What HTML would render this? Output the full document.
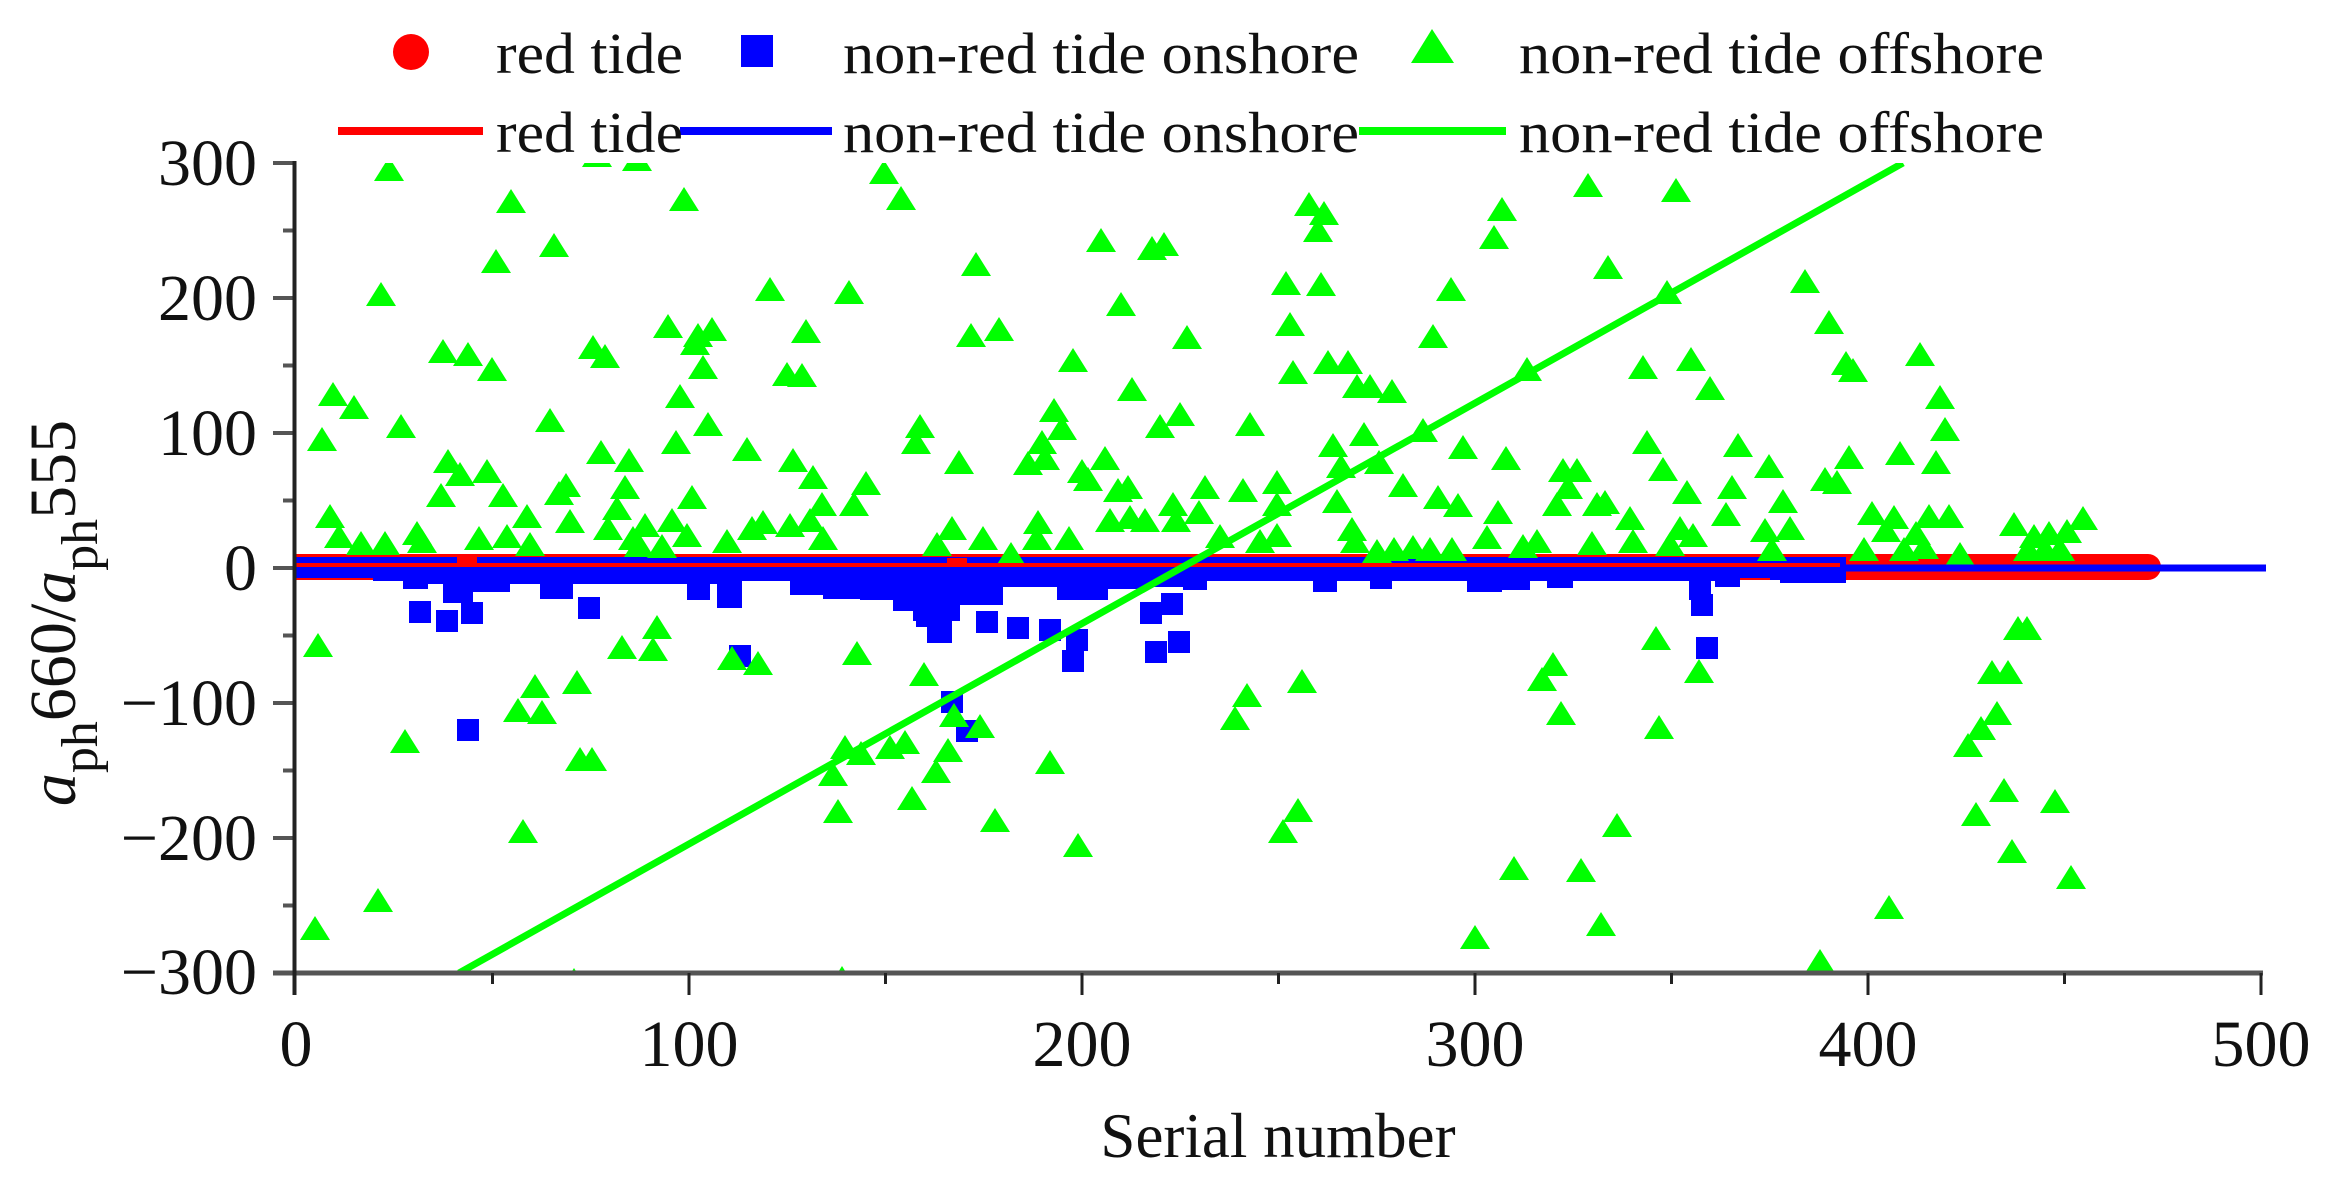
<!DOCTYPE html>
<html><head><meta charset="utf-8"><style>
html,body{margin:0;padding:0;background:#fff;}
svg{display:block;}
</style></head><body>
<svg width="2329" height="1189" viewBox="0 0 2329 1189" xmlns="http://www.w3.org/2000/svg">
<defs>
<path id="t" d="M-15 12L0 -12L15 12Z" fill="#00ff00"/>
<rect id="s" x="-11" y="-11" width="22" height="22" fill="#0000ff"/>
<clipPath id="pc"><rect x="296" y="163" width="1972" height="810"/></clipPath>
</defs>
<rect width="2329" height="1189" fill="#fff"/>
<g clip-path="url(#pc)">
<path d="M296 554H2148A13 13 0 0 1 2148 580H296Z" fill="#ff0000"/>
<path d="M296 557H1846V583H1780V580H1770V578H1740V587H1715V581H1573V588H1547V581H1530V590H1502V592H1467V581H1392V589H1370V581H1337V592H1313V581H1207V590H1183V587H1140V589H1108V600H1057V587H1003V605H960V621H952V643H927V621H913V611H893V600H860V599H823V595H790V581H742V608H717V584H710V600H687V584H573V599H540V584H510V592H473V603H443V584H428V589H403V581H373V578H296Z" fill="#0000ff"/>
<rect x="457" y="556" width="20" height="12" fill="#ff0000"/>
<rect x="947" y="558" width="20" height="10" fill="#ff0000"/>
<g>
<use href="#s" x="420" y="612"/><use href="#s" x="447" y="621"/><use href="#s" x="472" y="613"/><use href="#s" x="589" y="608"/><use href="#s" x="699" y="589"/><use href="#s" x="729" y="596"/><use href="#s" x="740" y="656"/><use href="#s" x="468" y="730"/>
<use href="#s" x="927" y="616"/><use href="#s" x="940" y="632"/><use href="#s" x="987" y="622"/><use href="#s" x="1018" y="628"/><use href="#s" x="1050" y="630"/><use href="#s" x="1077" y="640"/><use href="#s" x="1073" y="661"/><use href="#s" x="1151" y="613"/><use href="#s" x="1172" y="604"/><use href="#s" x="1156" y="652"/><use href="#s" x="1179" y="642"/><use href="#s" x="952" y="702"/><use href="#s" x="967" y="731"/>
<use href="#s" x="1700" y="589"/><use href="#s" x="1702" y="605"/><use href="#s" x="1707" y="648"/>
</g>
<g>
<use href="#t" x="389" y="169"/><use href="#t" x="597" y="155"/><use href="#t" x="637" y="159"/><use href="#t" x="511" y="201"/><use href="#t" x="684" y="199"/><use href="#t" x="496" y="261"/><use href="#t" x="554" y="245"/><use href="#t" x="381" y="294"/><use href="#t" x="770" y="289"/><use href="#t" x="668" y="326"/><use href="#t" x="698" y="335"/><use href="#t" x="712" y="329"/><use href="#t" x="695" y="343"/><use href="#t" x="703" y="367"/><use href="#t" x="443" y="351"/><use href="#t" x="468" y="354"/><use href="#t" x="492" y="369"/><use href="#t" x="593" y="347"/><use href="#t" x="605" y="356"/><use href="#t" x="333" y="394"/><use href="#t" x="354" y="407"/><use href="#t" x="322" y="439"/><use href="#t" x="401" y="426"/><use href="#t" x="550" y="420"/><use href="#t" x="680" y="396"/><use href="#t" x="708" y="424"/><use href="#t" x="676" y="442"/><use href="#t" x="747" y="449"/><use href="#t" x="601" y="452"/><use href="#t" x="629" y="460"/><use href="#t" x="448" y="461"/><use href="#t" x="460" y="474"/><use href="#t" x="487" y="471"/><use href="#t" x="441" y="495"/><use href="#t" x="503" y="495"/><use href="#t" x="566" y="485"/><use href="#t" x="559" y="493"/><use href="#t" x="625" y="487"/><use href="#t" x="692" y="497"/><use href="#t" x="617" y="508"/><use href="#t" x="330" y="516"/><use href="#t" x="527" y="516"/><use href="#t" x="570" y="521"/><use href="#t" x="608" y="528"/><use href="#t" x="645" y="525"/><use href="#t" x="672" y="520"/><use href="#t" x="752" y="528"/><use href="#t" x="763" y="522"/><use href="#t" x="339" y="536"/><use href="#t" x="361" y="543"/><use href="#t" x="385" y="543"/><use href="#t" x="417" y="533"/><use href="#t" x="422" y="541"/><use href="#t" x="479" y="538"/><use href="#t" x="507" y="536"/><use href="#t" x="530" y="544"/><use href="#t" x="633" y="538"/><use href="#t" x="639" y="545"/><use href="#t" x="662" y="546"/><use href="#t" x="687" y="535"/><use href="#t" x="727" y="541"/>
<use href="#t" x="318" y="645"/><use href="#t" x="622" y="647"/><use href="#t" x="657" y="627"/><use href="#t" x="653" y="649"/><use href="#t" x="732" y="658"/><use href="#t" x="758" y="663"/><use href="#t" x="535" y="686"/><use href="#t" x="577" y="682"/><use href="#t" x="518" y="710"/><use href="#t" x="542" y="712"/><use href="#t" x="405" y="741"/><use href="#t" x="580" y="759"/><use href="#t" x="592" y="759"/><use href="#t" x="523" y="831"/><use href="#t" x="378" y="900"/><use href="#t" x="315" y="928"/><use href="#t" x="574" y="980"/>

<use href="#t" x="884" y="172"/><use href="#t" x="901" y="198"/><use href="#t" x="1101" y="240"/><use href="#t" x="1152" y="248"/><use href="#t" x="1164" y="244"/><use href="#t" x="976" y="264"/><use href="#t" x="849" y="292"/><use href="#t" x="1121" y="304"/><use href="#t" x="806" y="331"/><use href="#t" x="971" y="335"/><use href="#t" x="999" y="329"/><use href="#t" x="1187" y="337"/><use href="#t" x="787" y="374"/><use href="#t" x="802" y="375"/><use href="#t" x="1073" y="360"/><use href="#t" x="1132" y="389"/><use href="#t" x="1054" y="410"/><use href="#t" x="1062" y="428"/><use href="#t" x="1160" y="426"/><use href="#t" x="1180" y="414"/><use href="#t" x="1250" y="424"/><use href="#t" x="920" y="426"/><use href="#t" x="916" y="442"/><use href="#t" x="1042" y="442"/><use href="#t" x="1028" y="463"/><use href="#t" x="1045" y="458"/><use href="#t" x="1105" y="458"/><use href="#t" x="959" y="462"/><use href="#t" x="793" y="460"/><use href="#t" x="813" y="477"/><use href="#t" x="1082" y="471"/><use href="#t" x="1088" y="479"/><use href="#t" x="866" y="483"/><use href="#t" x="854" y="504"/><use href="#t" x="822" y="504"/><use href="#t" x="1118" y="490"/><use href="#t" x="1128" y="487"/><use href="#t" x="1205" y="487"/><use href="#t" x="1243" y="490"/><use href="#t" x="1173" y="504"/><use href="#t" x="1199" y="512"/><use href="#t" x="1110" y="520"/><use href="#t" x="1130" y="517"/><use href="#t" x="1145" y="520"/><use href="#t" x="1176" y="520"/><use href="#t" x="790" y="525"/><use href="#t" x="810" y="520"/><use href="#t" x="823" y="538"/><use href="#t" x="952" y="528"/><use href="#t" x="937" y="544"/><use href="#t" x="983" y="538"/><use href="#t" x="1038" y="522"/><use href="#t" x="1037" y="538"/><use href="#t" x="1069" y="538"/><use href="#t" x="1011" y="554"/><use href="#t" x="1220" y="536"/><use href="#t" x="1260" y="541"/>
<use href="#t" x="857" y="653"/><use href="#t" x="924" y="674"/><use href="#t" x="1247" y="695"/><use href="#t" x="1235" y="718"/><use href="#t" x="954" y="715"/><use href="#t" x="980" y="726"/><use href="#t" x="845" y="747"/><use href="#t" x="861" y="753"/><use href="#t" x="890" y="747"/><use href="#t" x="905" y="742"/><use href="#t" x="948" y="750"/><use href="#t" x="936" y="771"/><use href="#t" x="833" y="774"/><use href="#t" x="838" y="811"/><use href="#t" x="912" y="798"/><use href="#t" x="995" y="820"/><use href="#t" x="1050" y="762"/><use href="#t" x="1078" y="845"/><use href="#t" x="842" y="978"/>

<use href="#t" x="1588" y="185"/><use href="#t" x="1676" y="190"/><use href="#t" x="1309" y="204"/><use href="#t" x="1324" y="213"/><use href="#t" x="1318" y="230"/><use href="#t" x="1502" y="209"/><use href="#t" x="1494" y="237"/><use href="#t" x="1608" y="267"/><use href="#t" x="1286" y="283"/><use href="#t" x="1321" y="284"/><use href="#t" x="1451" y="289"/><use href="#t" x="1667" y="292"/><use href="#t" x="1290" y="324"/><use href="#t" x="1433" y="336"/><use href="#t" x="1293" y="372"/><use href="#t" x="1328" y="362"/><use href="#t" x="1348" y="362"/><use href="#t" x="1357" y="386"/><use href="#t" x="1370" y="386"/><use href="#t" x="1392" y="391"/><use href="#t" x="1527" y="369"/><use href="#t" x="1643" y="367"/><use href="#t" x="1691" y="359"/><use href="#t" x="1710" y="388"/><use href="#t" x="1423" y="430"/><use href="#t" x="1333" y="445"/><use href="#t" x="1364" y="434"/><use href="#t" x="1341" y="466"/><use href="#t" x="1379" y="462"/><use href="#t" x="1463" y="447"/><use href="#t" x="1506" y="458"/><use href="#t" x="1647" y="442"/><use href="#t" x="1663" y="469"/><use href="#t" x="1738" y="445"/><use href="#t" x="1277" y="482"/><use href="#t" x="1277" y="504"/><use href="#t" x="1403" y="485"/><use href="#t" x="1337" y="501"/><use href="#t" x="1438" y="497"/><use href="#t" x="1458" y="505"/><use href="#t" x="1498" y="512"/><use href="#t" x="1563" y="470"/><use href="#t" x="1577" y="470"/><use href="#t" x="1568" y="487"/><use href="#t" x="1557" y="504"/><use href="#t" x="1597" y="504"/><use href="#t" x="1605" y="502"/><use href="#t" x="1687" y="492"/><use href="#t" x="1732" y="487"/><use href="#t" x="1726" y="514"/><use href="#t" x="1630" y="518"/><use href="#t" x="1277" y="535"/><use href="#t" x="1352" y="529"/><use href="#t" x="1355" y="541"/><use href="#t" x="1487" y="537"/><use href="#t" x="1633" y="541"/><use href="#t" x="1680" y="528"/><use href="#t" x="1693" y="535"/><use href="#t" x="1592" y="543"/><use href="#t" x="1377" y="551"/><use href="#t" x="1394" y="549"/><use href="#t" x="1413" y="547"/><use href="#t" x="1430" y="549"/><use href="#t" x="1452" y="549"/><use href="#t" x="1523" y="546"/><use href="#t" x="1537" y="541"/><use href="#t" x="1670" y="544"/>
<use href="#t" x="1656" y="638"/><use href="#t" x="1699" y="671"/><use href="#t" x="1553" y="664"/><use href="#t" x="1542" y="679"/><use href="#t" x="1561" y="713"/><use href="#t" x="1302" y="681"/><use href="#t" x="1659" y="727"/><use href="#t" x="1298" y="810"/><use href="#t" x="1283" y="831"/><use href="#t" x="1617" y="825"/><use href="#t" x="1514" y="868"/><use href="#t" x="1581" y="870"/><use href="#t" x="1601" y="924"/><use href="#t" x="1475" y="937"/>

<use href="#t" x="1805" y="281"/><use href="#t" x="1829" y="322"/><use href="#t" x="1846" y="363"/><use href="#t" x="1853" y="370"/><use href="#t" x="1920" y="354"/><use href="#t" x="1940" y="397"/><use href="#t" x="1945" y="429"/><use href="#t" x="1936" y="462"/><use href="#t" x="1900" y="453"/><use href="#t" x="1849" y="457"/><use href="#t" x="1825" y="479"/><use href="#t" x="1837" y="482"/><use href="#t" x="1769" y="466"/><use href="#t" x="1783" y="501"/><use href="#t" x="1790" y="528"/><use href="#t" x="1765" y="530"/><use href="#t" x="1772" y="549"/><use href="#t" x="1872" y="513"/><use href="#t" x="1894" y="517"/><use href="#t" x="1886" y="530"/><use href="#t" x="1929" y="516"/><use href="#t" x="1949" y="516"/><use href="#t" x="1916" y="533"/><use href="#t" x="1864" y="549"/><use href="#t" x="1904" y="549"/><use href="#t" x="1924" y="547"/><use href="#t" x="1960" y="554"/><use href="#t" x="2014" y="524"/><use href="#t" x="2034" y="536"/><use href="#t" x="2049" y="533"/><use href="#t" x="2067" y="531"/><use href="#t" x="2083" y="518"/><use href="#t" x="2028" y="549"/><use href="#t" x="2045" y="549"/><use href="#t" x="2060" y="549"/>
<use href="#t" x="2018" y="628"/><use href="#t" x="2027" y="628"/><use href="#t" x="1992" y="672"/><use href="#t" x="2008" y="672"/><use href="#t" x="1997" y="713"/><use href="#t" x="1981" y="728"/><use href="#t" x="1968" y="745"/><use href="#t" x="2004" y="790"/><use href="#t" x="1976" y="814"/><use href="#t" x="2055" y="801"/><use href="#t" x="2012" y="851"/><use href="#t" x="2071" y="877"/><use href="#t" x="1889" y="907"/><use href="#t" x="1820" y="961"/>
</g>
<line x1="296" y1="568" x2="2266" y2="568" stroke="#0000ff" stroke-width="7"/>
<line x1="296" y1="565" x2="1840" y2="565" stroke="#ff0000" stroke-width="4"/>
<line x1="459" y1="973" x2="1903" y2="163" stroke="#00ff00" stroke-width="7"/>
</g>

<!-- axes -->
<g stroke="#555" stroke-width="4">
<line x1="273" y1="973" x2="2263" y2="973" stroke-width="5"/>
<line x1="273" y1="163" x2="294" y2="163"/>
<line x1="273" y1="298" x2="294" y2="298"/>
<line x1="273" y1="433" x2="294" y2="433"/>
<line x1="273" y1="568" x2="294" y2="568"/>
<line x1="273" y1="703" x2="294" y2="703"/>
<line x1="273" y1="838" x2="294" y2="838"/>
<line x1="283" y1="230.5" x2="294" y2="230.5"/>
<line x1="283" y1="365.5" x2="294" y2="365.5"/>
<line x1="283" y1="500.5" x2="294" y2="500.5"/>
<line x1="283" y1="635.5" x2="294" y2="635.5"/>
<line x1="283" y1="770.5" x2="294" y2="770.5"/>
<line x1="283" y1="905.5" x2="294" y2="905.5"/>
</g>
<g stroke="#222" stroke-width="3">
<line x1="294.5" y1="161" x2="294.5" y2="995" stroke-width="4"/>
<line x1="689" y1="973" x2="689" y2="995"/>
<line x1="1082" y1="973" x2="1082" y2="995"/>
<line x1="1475" y1="973" x2="1475" y2="995"/>
<line x1="1868" y1="973" x2="1868" y2="995"/>
<line x1="2261" y1="973" x2="2261" y2="995"/>
<line x1="492.5" y1="973" x2="492.5" y2="984"/>
<line x1="885.5" y1="973" x2="885.5" y2="984"/>
<line x1="1278.5" y1="973" x2="1278.5" y2="984"/>
<line x1="1671.5" y1="973" x2="1671.5" y2="984"/>
<line x1="2064.5" y1="973" x2="2064.5" y2="984"/>
</g>

<g font-family="'Liberation Serif', serif" font-size="66" fill="#111">
<g text-anchor="end">
<text x="257" y="185">300</text>
<text x="257" y="320">200</text>
<text x="257" y="455">100</text>
<text x="257" y="590">0</text>
<text x="257" y="725">−100</text>
<text x="257" y="860">−200</text>
<text x="257" y="994">−300</text>
</g>
<g text-anchor="middle">
<text x="296" y="1066">0</text>
<text x="689" y="1066">100</text>
<text x="1082" y="1066">200</text>
<text x="1475" y="1066">300</text>
<text x="1868" y="1066">400</text>
<text x="2261" y="1066">500</text>
<text x="1278" y="1157" font-size="63">Serial number</text>
</g>
<text transform="translate(75,613) rotate(-90)" text-anchor="middle"><tspan font-style="italic">a</tspan><tspan font-size="52" dy="22">ph</tspan><tspan dy="-22">660/</tspan><tspan font-style="italic">a</tspan><tspan font-size="52" dy="22">ph</tspan><tspan dy="-22">555</tspan></text>
</g>

<!-- legend -->
<circle cx="411" cy="52" r="18" fill="#ff0000"/>
<rect x="741" y="35" width="32" height="32" fill="#0000ff"/>
<path d="M1411 63L1432 29L1454 63Z" fill="#00ff00"/>
<line x1="338" y1="131" x2="483" y2="131" stroke="#ff0000" stroke-width="8"/>
<line x1="680" y1="131" x2="832" y2="131" stroke="#0000ff" stroke-width="8"/>
<line x1="1359" y1="131" x2="1506" y2="131" stroke="#00ff00" stroke-width="8"/>
<g font-family="'Liberation Serif', serif" font-size="58" fill="#111">
<text x="496" y="73" textLength="187" lengthAdjust="spacingAndGlyphs">red tide</text>
<text x="843" y="73" textLength="516" lengthAdjust="spacingAndGlyphs">non-red tide onshore</text>
<text x="1519" y="73" textLength="525" lengthAdjust="spacingAndGlyphs">non-red tide offshore</text>
<text x="496" y="152" textLength="187" lengthAdjust="spacingAndGlyphs">red tide</text>
<text x="843" y="152" textLength="516" lengthAdjust="spacingAndGlyphs">non-red tide onshore</text>
<text x="1519" y="152" textLength="525" lengthAdjust="spacingAndGlyphs">non-red tide offshore</text>
</g>
</svg>
</body></html>
